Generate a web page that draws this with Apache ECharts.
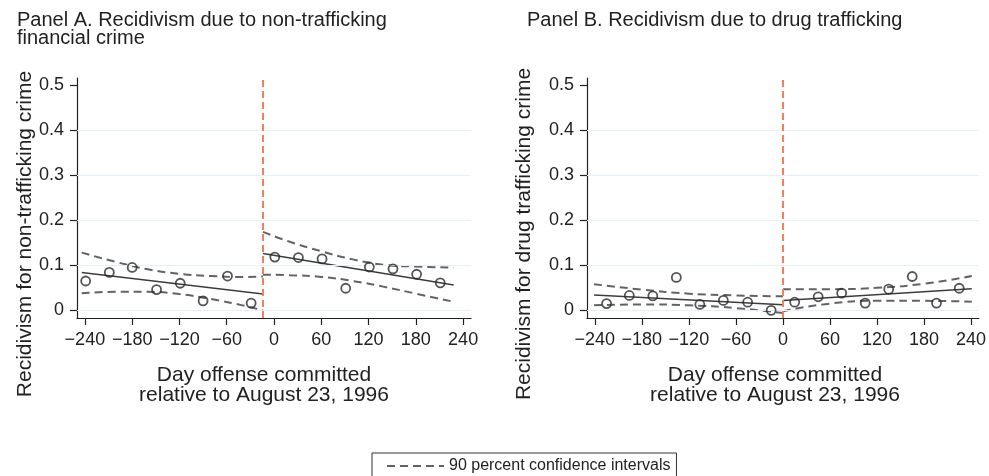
<!DOCTYPE html>
<html>
<head>
<meta charset="utf-8">
<script src="https://cdn.jsdelivr.net/npm/echarts@6/dist/echarts.min.js"></script>
<style>
  html, body { margin: 0; padding: 0; background: #ffffff; }
  #chart { width: 989px; height: 476px; }
</style>
</head>
<body>
<div id="chart"></div>
<script>
// Axis ticks shared by both panels
const dayTicks = [-240, -180, -120, -60, 0, 60, 120, 180, 240];
const rateTicks = [0, 0.1, 0.2, 0.3, 0.4, 0.5];
const gridLevels = [0, 0.1, 0.2, 0.3, 0.4];

// Panel A: non-trafficking financial crime (30-day bins, cutoff two weeks early)
const finCutoff = -14;
const finDays = [-239, -209, -180, -149, -119, -90, -59, -29, 1, 31, 61, 91, 121, 151, 181, 211];
const finRate = [0.065, 0.084, 0.095, 0.046, 0.060, 0.021, 0.076, 0.016, 0.118, 0.117, 0.114, 0.049, 0.096, 0.092, 0.080, 0.061];
const finFitPreDays = [-244, -14];
const finFitPre = [0.084, 0.036];
const finBandPreDays = [-244, -200, -160, -120, -80, -40, -14];
const finBandPreHigh = [0.128, 0.107, 0.091, 0.081, 0.076, 0.074, 0.075];
const finBandPreLow = [0.038, 0.041, 0.041, 0.036, 0.025, 0.011, 0.000];
const finFitPostDays = [-14, 228];
const finFitPost = [0.126, 0.056];
const finBandPostDays = [-14, 20, 60, 100, 140, 180, 228];
const finBandPostHigh = [0.174, 0.152, 0.131, 0.113, 0.101, 0.097, 0.095];
const finBandPostLow = [0.079, 0.078, 0.074, 0.065, 0.052, 0.037, 0.019];

// Panel B: drug trafficking
const drugCutoff = 0;
const drugDays = [-225, -196, -166, -136, -106, -76, -45, -15, 15, 45, 75, 105, 135, 165, 196, 225];
const drugRate = [0.015, 0.033, 0.032, 0.073, 0.013, 0.022, 0.018, 0.000, 0.018, 0.030, 0.038, 0.016, 0.047, 0.075, 0.016, 0.049];
const drugFitPreDays = [-241, 0];
const drugFitPre = [0.034, 0.0125];
const drugBandPreDays = [-241, -180, -120, -60, 0];
const drugBandPreHigh = [0.058, 0.046, 0.037, 0.033, 0.031];
const drugBandPreLow = [0.011, 0.013, 0.011, 0.005, -0.006];
const drugFitPostDays = [0, 241];
const drugFitPost = [0.022, 0.048];
const drugBandPostDays = [0, 60, 120, 180, 241];
const drugBandPostHigh = [0.047, 0.047, 0.050, 0.059, 0.076];
const drugBandPostLow = [-0.002, 0.015, 0.021, 0.021, 0.019];

const bandName = '90 percent confidence intervals';
const FONT = '"Liberation Sans", Arial, Helvetica, sans-serif';
const INK = '#222222';

const pairs = (xs, ys) => xs.map((x, i) => [x, ys[i]]);
const fmtDay = v => (v < 0 ? '\u2212' + (-v) : String(v));
const fmtRate = v => (v === 0 ? '0' : v.toFixed(1));

function xAxisFor(gridIndex) {
  return {
    type: 'value', gridIndex, min: -250, max: 250,
    axisLine: { show: true, onZero: false, lineStyle: { color: INK, width: 1.2 } },
    axisTick: { show: true, length: 7, customValues: dayTicks, lineStyle: { color: INK, width: 1.2 } },
    axisLabel: { customValues: dayTicks, formatter: fmtDay, fontSize: 18, color: INK, margin: 13, fontFamily: FONT },
    splitLine: { show: false }
  };
}
function yAxisFor(gridIndex) {
  return {
    type: 'value', gridIndex, min: -0.017, max: 0.515,
    axisLine: { show: true, onZero: false, lineStyle: { color: INK, width: 1.2 } },
    axisTick: { show: true, length: 7, customValues: rateTicks, lineStyle: { color: INK, width: 1.2 } },
    axisLabel: { customValues: rateTicks, formatter: fmtRate, fontSize: 18, color: INK, margin: 13, fontFamily: FONT },
    splitLine: { show: false }
  };
}

function panelSeries(idx, cutoff, days, rate, fitPre, bandPre, fitPost, bandPost) {
  const base = { xAxisIndex: idx, yAxisIndex: idx };
  const band = (xs, ys) => Object.assign({
    type: 'line', name: bandName, data: pairs(xs, ys), smooth: 0.5,
    symbol: 'none', showSymbol: false, z: 3, silent: true,
    lineStyle: { color: '#636363', width: 2, type: [8, 5] }
  }, base);
  const fit = (xs, ys) => Object.assign({
    type: 'line', name: 'fit', data: pairs(xs, ys), symbol: 'none', z: 4, silent: true,
    lineStyle: { color: '#3c3c3c', width: 1.5 }
  }, base);
  return [
    Object.assign({
      type: 'line', name: 'levels', data: [], silent: true, z: 1,
      markLine: {
        silent: true, symbol: 'none', label: { show: false },
        lineStyle: { color: '#e6eff3', width: 1.2, type: 'solid' },
        data: gridLevels.map(v => ({ yAxis: v }))
      }
    }, base),
    Object.assign({
      type: 'line', name: 'cutoff', data: [], silent: true, z: 2,
      markLine: {
        silent: true, symbol: 'none', label: { show: false },
        lineStyle: { color: '#f2805f', width: 2, type: [7, 4] },
        data: [{ xAxis: cutoff }]
      }
    }, base),
    band(bandPre[0], bandPre[1]),
    band(bandPre[0], bandPre[2]),
    band(bandPost[0], bandPost[1]),
    band(bandPost[0], bandPost[2]),
    fit(fitPre[0], fitPre[1]),
    fit(fitPost[0], fitPost[1]),
    Object.assign({
      type: 'scatter', name: 'bins', data: pairs(days, rate), z: 5, silent: true,
      symbol: 'circle', symbolSize: 9,
      itemStyle: { color: 'rgba(255,255,255,0)', borderColor: '#2b2b2b', borderWidth: 1.8 }
    }, base)
  ];
}

const chart = echarts.init(document.getElementById('chart'), null, { renderer: 'canvas' });

chart.setOption({
  animation: false,
  backgroundColor: '#ffffff',
  textStyle: { fontFamily: FONT, color: INK },
  title: [
    { text: 'Panel A. Recidivism due to non-trafficking\nfinancial crime', left: 17, top: 11, padding: 0,
      textStyle: { fontSize: 20, fontWeight: 'normal', color: INK, lineHeight: 18, fontFamily: FONT } },
    { text: 'Panel B. Recidivism due to drug trafficking', left: 527, top: 11, padding: 0,
      textStyle: { fontSize: 20, fontWeight: 'normal', color: INK, lineHeight: 18, fontFamily: FONT } }
  ],
  grid: [
    { left: 77, top: 78, width: 394, height: 240, containLabel: false },
    { left: 587, top: 78, width: 393, height: 240, containLabel: false }
  ],
  xAxis: [xAxisFor(0), xAxisFor(1)],
  yAxis: [yAxisFor(0), yAxisFor(1)],
  legend: {
    data: [bandName], left: 372, top: 453,
    padding: [5, 6, 20, 14], itemGap: 8, itemWidth: 57, itemHeight: 14,
    borderColor: '#333333', borderWidth: 1, borderRadius: 0,
    itemStyle: { opacity: 0 },
    textStyle: { fontSize: 16, color: INK, fontFamily: FONT, padding: [0, 0, 0, 0] },
    selectedMode: false
  },
  series: [].concat(
    panelSeries(0, finCutoff, finDays, finRate,
      [finFitPreDays, finFitPre], [finBandPreDays, finBandPreHigh, finBandPreLow],
      [finFitPostDays, finFitPost], [finBandPostDays, finBandPostHigh, finBandPostLow]),
    panelSeries(1, drugCutoff, drugDays, drugRate,
      [drugFitPreDays, drugFitPre], [drugBandPreDays, drugBandPreHigh, drugBandPreLow],
      [drugFitPostDays, drugFitPost], [drugBandPostDays, drugBandPostHigh, drugBandPostLow])
  ),
  graphic: [
    { type: 'text', x: 264, y: 385, silent: true,
      style: { text: 'Day offense committed\nrelative to August 23, 1996', fontSize: 21, fontFamily: FONT,
               fill: INK, align: 'center', verticalAlign: 'middle', lineHeight: 20 } },
    { type: 'text', x: 775, y: 385, silent: true,
      style: { text: 'Day offense committed\nrelative to August 23, 1996', fontSize: 21, fontFamily: FONT,
               fill: INK, align: 'center', verticalAlign: 'middle', lineHeight: 20 } },
    { type: 'text', x: 25, y: 234, rotation: Math.PI / 2, silent: true,
      style: { text: 'Recidivism for non-trafficking crime', fontSize: 21, fontFamily: FONT,
               fill: INK, align: 'center', verticalAlign: 'middle' } },
    { type: 'text', x: 524, y: 234, rotation: Math.PI / 2, silent: true,
      style: { text: 'Recidivism for drug trafficking crime', fontSize: 21, fontFamily: FONT,
               fill: INK, align: 'center', verticalAlign: 'middle' } }
  ]
});
</script>
</body>
</html>
